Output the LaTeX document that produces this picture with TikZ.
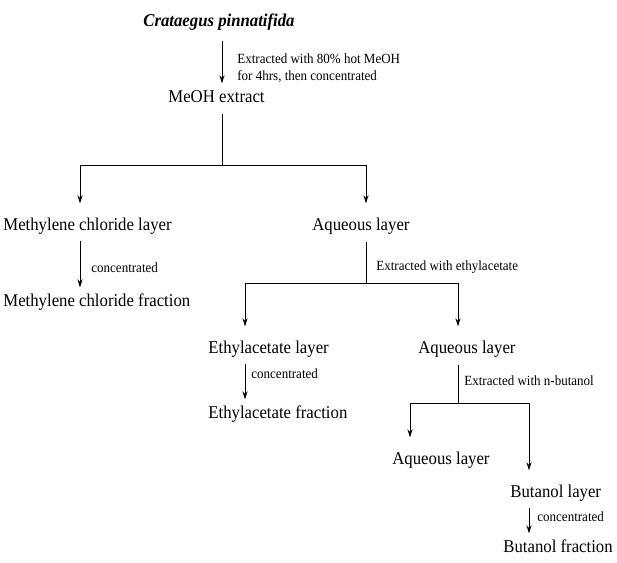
\documentclass[tikz,border=0pt]{standalone}
\usepackage{fontspec}
\setmainfont{Liberation Serif}[FakeStretch=0.93]
\usetikzlibrary{arrows.meta,positioning}

\begin{document}
\begin{tikzpicture}[
    x=0.5pt,y=-0.5pt,
    txt/.style={anchor=west,inner sep=0pt,text height=6.3pt,text depth=2pt,font=\fontsize{9}{10}\selectfont},
    note/.style={anchor=west,inner sep=0pt,align=left,font=\fontsize{7}{8.6}\selectfont},
    link/.style={line width=0.5pt,shorten <=3.5pt},
    arrow/.style={-{Stealth[length=4pt,width=2.6pt]},line width=0.5pt,shorten <=3pt,shorten >=3pt},
    branch/.style={-{Stealth[length=4pt,width=2.6pt]},line width=0.5pt,shorten >=7pt}
  ]
    \useasboundingbox (0,0) rectangle (617,563);
    % text of the scheme
    \node[txt,font=\fontsize{9}{10}\selectfont\bfseries\itshape] (plant) at (143,22) {Crataegus pinnatifida};
    \node[txt] (meoh) at (168,98) {MeOH extract};
    \node[txt] (mcl) at (3,226) {Methylene chloride layer};
    \node[txt] (aqa) at (312,226) {Aqueous layer};
    \node[txt] (mclf) at (3,302) {Methylene chloride fraction};
    \node[txt] (ea) at (208,349) {Ethylacetate layer};
    \node[txt] (aqb) at (418,349) {Aqueous layer};
    \node[txt] (eaf) at (208,414) {Ethylacetate fraction};
    \node[txt] (aqc) at (392,460) {Aqueous layer};
    \node[txt] (bu) at (510,493) {Butanol layer};
    \node[txt] (buf) at (503,548) {Butanol fraction};
    % branch points
    \coordinate (j1) at (222,165);
    \coordinate (j1l) at (80,165);
    \coordinate (j1r) at (366,165);
    \coordinate (j2) at (366,283);
    \coordinate (j2l) at (245,283);
    \coordinate (j2r) at (458,283);
    \coordinate (j3) at (458,403);
    \coordinate (j3l) at (410,403);
    \coordinate (j3r) at (529,403);
    % steps
    \draw[arrow,shorten <=5pt] (plant.south -| j1) -- (meoh.north -| j1);
    \node[note] (extmeoh) at (237,68.5) {Extracted with 80\% hot MeOH\\for 4hrs, then concentrated};
    \draw[link] (meoh.south -| j1) -- (j1);
    \draw[branch] (j1) -| (mcl.north -| j1l);
    \draw[branch] (j1) -| (aqa.north -| j1r);
    \draw[arrow] (mcl.south -| j1l) -- (mclf.north -| j1l);
    \node[note] (concmcl) at (91,268) {concentrated};
    \draw[link] (aqa.south -| j2) -- (j2);
    \node[note] (extea) at (376,267) {Extracted with ethylacetate};
    \draw[branch] (j2) -| (ea.north -| j2l);
    \draw[branch] (j2) -| (aqb.north -| j2r);
    \draw[arrow] (ea.south -| j2l) -- (eaf.north -| j2l);
    \node[note] (concea) at (251,374) {concentrated};
    \draw[link] (aqb.south -| j3) -- (j3);
    \node[note] (extbu) at (464,381) {Extracted with n-butanol};
    \draw[branch] (j3) -| (aqc.north -| j3l);
    \draw[branch] (j3) -| (bu.north -| j3r);
    \draw[arrow] (bu.south -| j3r) -- (buf.north -| j3r);
    \node[note] (concbu) at (537,517) {concentrated};
  \end{tikzpicture}
\end{document}
